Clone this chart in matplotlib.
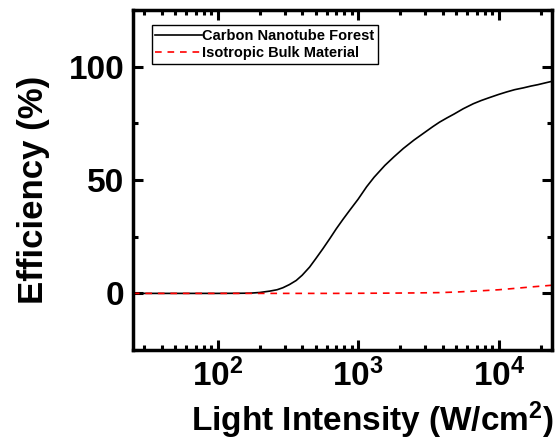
import numpy as np
import matplotlib
matplotlib.use('Agg')
import matplotlib.pyplot as plt
from matplotlib.ticker import FixedLocator, LogLocator, NullFormatter

# Bold Arial-like text everywhere, including mathtext exponents.
plt.rcParams['font.family'] = ['Liberation Sans', 'DejaVu Sans']
plt.rcParams['font.weight'] = 'bold'
plt.rcParams['mathtext.fontset'] = 'custom'
plt.rcParams['mathtext.rm'] = 'Liberation Sans:bold'
plt.rcParams['mathtext.bf'] = 'Liberation Sans:bold'
plt.rcParams['mathtext.it'] = 'Liberation Sans:bold'

# Carbon nanotube forest efficiency vs intensity.
cnt_intensity = [25, 60, 100, 140, 170, 200, 235, 265, 292, 325, 363, 400, 452, 500,
                 562, 630, 700, 780, 871, 1000, 1150, 1300, 1550, 1800, 2100, 2500,
                 3000, 3400, 3800, 4300, 4800, 5600, 6600, 7500, 8500, 10000, 11400,
                 13000, 15000, 17000, 19000, 21500, 24000]
cnt_efficiency = [0, 0, 0, 0.05, 0.1, 0.4, 1.0, 1.6, 2.5, 3.9, 5.7, 8.0, 11.6, 15.3,
                  19.7, 24.2, 28.5, 32.6, 36.6, 41.5, 47.0, 51.2, 56.4, 60.2, 63.9, 67.6,
                  71.1, 73.5, 75.5, 77.4, 79.0, 81.4, 83.6, 85.0, 86.2, 87.7, 88.8,
                  89.8, 90.6, 91.4, 92.0, 92.8, 93.5]

# Isotropic bulk material efficiency vs intensity.
bulk_intensity = [25, 100, 300, 700, 1500, 2500, 3800, 5000, 6200, 8000, 10000,
                  13000, 16700, 20000, 24000]
bulk_efficiency = [0, 0, 0, 0, 0.1, 0.2, 0.35, 0.6, 0.9, 1.25, 1.6, 2.2, 2.8, 3.2, 3.6]

x_ticks = [100, 1000, 10000]
x_labels = [r'$\mathbf{10^{2}}$', r'$\mathbf{10^{3}}$', r'$\mathbf{10^{4}}$']
y_ticks = [0, 50, 100]

fig = plt.figure(figsize=(5.56, 4.46), dpi=100)
ax = fig.add_axes([0.239, 0.215, 0.754, 0.763])

ax.plot(cnt_intensity, cnt_efficiency, color='black', lw=1.2,
        label='Carbon Nanotube Forest')
ax.plot(bulk_intensity, bulk_efficiency, color='red', lw=1.2, ls=(0, (4, 3.5)),
        label='Isotropic Bulk Material')

ax.set_xscale('log')
ax.set_xlim(25, 24000)
ax.set_ylim(-25, 125)

ax.xaxis.set_major_locator(FixedLocator(x_ticks))
ax.set_xticklabels(x_labels)
ax.xaxis.set_minor_locator(LogLocator(base=10, subs=np.arange(2, 10), numticks=20))
ax.xaxis.set_minor_formatter(NullFormatter())
ax.yaxis.set_major_locator(FixedLocator(y_ticks))
ax.yaxis.set_minor_locator(FixedLocator([-25, 25, 75, 125]))

ax.tick_params(which='both', direction='in', top=True, right=True, width=2.2)
ax.tick_params(which='major', length=7, labelsize=24, pad=6)
ax.tick_params(which='minor', length=3.5)
for lab in ax.get_yticklabels():
    lab.set_fontweight('bold')
for sp in ax.spines.values():
    sp.set_linewidth(2.5)

ax.set_xlabel(r'Light Intensity (W/cm$^\mathbf{2}$)', fontsize=24, fontweight='bold')
ax.xaxis.set_label_coords(0.572, -0.145)
ax.set_ylabel('Efficiency (%)', fontsize=25, fontweight='bold')
ax.yaxis.set_label_coords(-0.198, 0.47)

leg = ax.legend(loc='upper left', bbox_to_anchor=(0.045, 0.955),
                prop={'weight': 'bold', 'size': 10.5}, handlelength=3.2,
                handletextpad=0.0, borderpad=0.25, labelspacing=0.25,
                fancybox=False, framealpha=1, edgecolor='black', borderaxespad=0)
leg.get_frame().set_linewidth(1.0)

fig.savefig('out.png', dpi=100)
